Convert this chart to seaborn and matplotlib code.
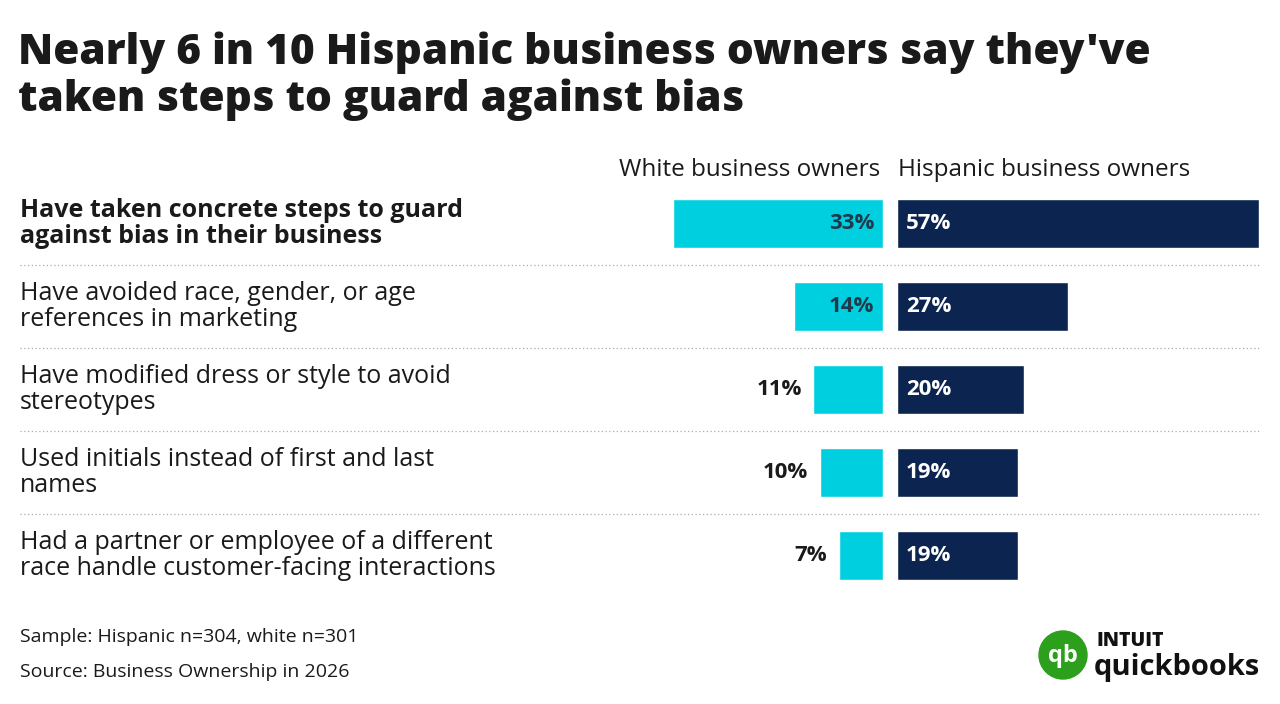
import matplotlib
matplotlib.use('Agg')
import matplotlib.pyplot as plt
import seaborn as sns
import pandas as pd
from matplotlib.lines import Line2D
from matplotlib.patches import Ellipse

categories = [
    "Have taken concrete steps to guard\nagainst bias in their business",
    "Have avoided race, gender, or age\nreferences in marketing",
    "Have modified dress or style to avoid\nstereotypes",
    "Used initials instead of first and last\nnames",
    "Had a partner or employee of a different\nrace handle customer-facing interactions",
]
white_pct = [33, 14, 11, 10, 7]
hispanic_pct = [57, 27, 20, 19, 19]

CYAN = "#00CFDF"
NAVY = "#0B2550"
TXT = "#1A1A1A"

sns.set_theme(style="white")
plt.rcParams['font.family'] = ['Open Sans', 'DejaVu Sans']

W, H = 1280, 704
fig = plt.figure(figsize=(12.8, 7.04), dpi=100)

df = pd.DataFrame({"cat": categories, "white": white_pct, "hisp": hispanic_pct})

scale = 6.35  # px per percent
top, bottom = 182, 597
axL = fig.add_axes([(883 - 60 * scale) / W, 1 - bottom / H, 60 * scale / W, (bottom - top) / H])
axR = fig.add_axes([897 / W, 1 - bottom / H, 60 * scale / W, (bottom - top) / H])

sns.barplot(data=df, x="white", y="cat", orient="h", color=CYAN, width=0.58,
            saturation=1, ax=axL)
sns.barplot(data=df, x="hisp", y="cat", orient="h", color=NAVY, width=0.58,
            saturation=1, ax=axR)
axL.set_xlim(60, 0)
axR.set_xlim(0, 60)
for ax in (axL, axR):
    ax.set_ylim(4.5, -0.5)
    ax.axis("off")

for i, v in enumerate(white_pct):
    if v >= 14:
        axL.text(1.4, i, f"{v}%", ha="right", va="center", fontsize=16,
                 fontweight="bold", color="#1F3A4D")
    else:
        axL.text(v + 1.8, i, f"{v}%", ha="right", va="center", fontsize=16,
                 fontweight="bold", color=TXT)
for i, v in enumerate(hispanic_pct):
    axR.text(1.4, i, f"{v}%", ha="left", va="center", fontsize=16,
             fontweight="bold", color="white")

# category labels
for i, c in enumerate(categories):
    y = top + 41.5 + i * 83
    fig.text(20 / W, 1 - y / H, c, ha="left", va="center", fontsize=18,
             color=TXT, fontweight="bold" if i == 0 else "normal", linespacing=1.1)

# dotted separators
for i in range(1, 5):
    y = 1 - (top + i * 83) / H
    fig.add_artist(Line2D([20 / W, 1260 / W], [y, y], color="#AAAAAA",
                          lw=0.9, ls=(0, (1, 2))))

fig.text(18 / W, 1 - 76 / H, "Nearly 6 in 10 Hispanic business owners say they've\ntaken steps to guard against bias",
         ha="left", va="center", fontsize=30.5, fontweight="heavy", color=TXT, linespacing=1.15)
fig.text(880 / W, 1 - 170 / H, "White business owners", ha="right", va="center",
         fontsize=17.5, color=TXT)
fig.text(898 / W, 1 - 170 / H, "Hispanic business owners", ha="left", va="center",
         fontsize=17.5, color=TXT)

fig.text(20 / W, 1 - 637 / H, "Sample: Hispanic n=304, white n=301", ha="left", va="center",
         fontsize=14, color=TXT)
fig.text(20 / W, 1 - 672 / H, "Source: Business Ownership in 2026", ha="left", va="center",
         fontsize=14, color=TXT)

# logo
fig.add_artist(Ellipse((1063 / W, 1 - 655 / H), 48 / W, 48 / H, color="#2CA01C",
                       transform=fig.transFigure))
fig.text(1063 / W, 1 - 656 / H, "qb", ha="center", va="center", fontsize=17,
         fontweight="bold", color="white")
fig.text(1096 / W, 1 - 641 / H, "INTUIT", ha="left", va="center", fontsize=14,
         fontweight="heavy", color="#111111")
fig.text(1094 / W, 1 - 667 / H, "quickbooks", ha="left", va="center", fontsize=21,
         fontweight="bold", color="#111111")

fig.savefig("out.png", dpi=100)
